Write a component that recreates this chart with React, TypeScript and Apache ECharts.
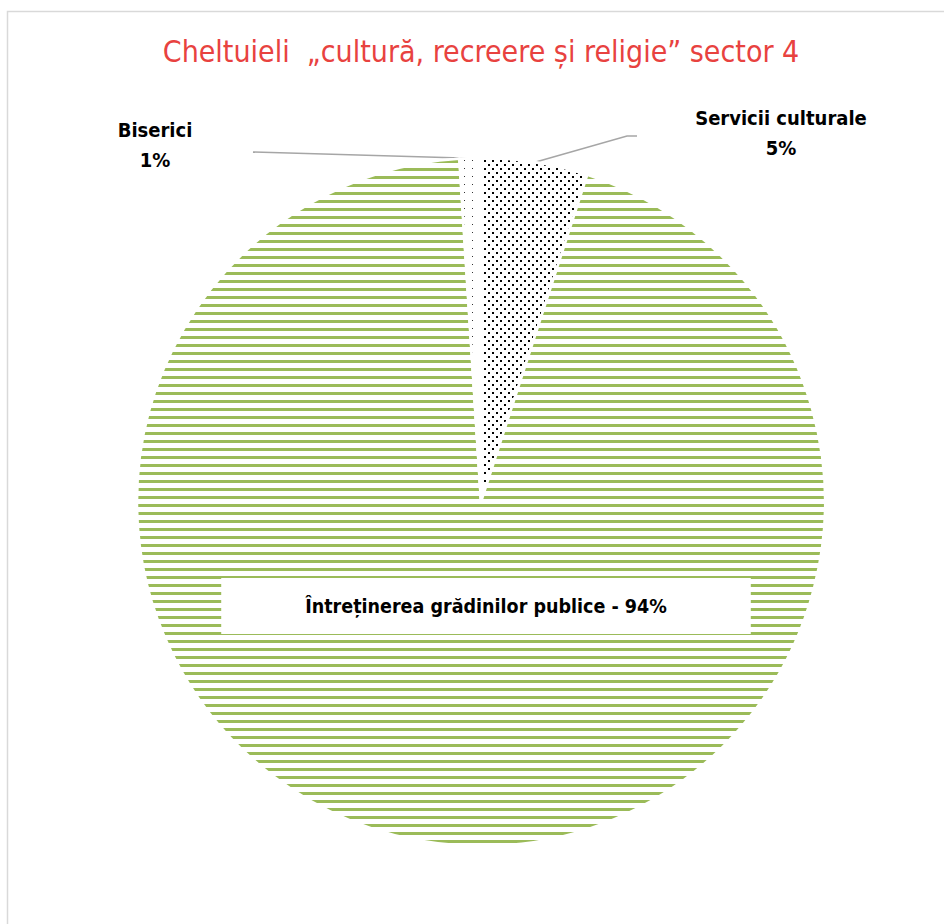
import React, { useEffect, useRef } from 'react';
import * as echarts from 'echarts';

const TITLE = 'Cheltuieli  „cultură, recreere și religie” sector 4';
const categories = ['Servicii culturale', 'Întreținerea grădinilor publice', 'Biserici'];
const values = [5, 94, 1];

const FONT = "'Liberation Sans Narrow', 'DejaVu Sans Condensed', 'Roboto Condensed', sans-serif";
const GREEN = '#9bbb59';

export default function App() {
  const ref = useRef<HTMLDivElement>(null);
  useEffect(() => {
    const chart = echarts.init(ref.current!, null, { renderer: 'svg' });
    const decals: any[] = [
      { symbol: 'rect', symbolSize: 1, color: '#000', dashArrayX: [[2, 6], [0, 4, 2, 2]], dashArrayY: [2, 2] },
      { symbol: 'rect', symbolSize: 1, color: GREEN, dashArrayX: [1, 0], dashArrayY: [3, 5] },
      { symbol: 'rect', symbolSize: 1, color: '#333', dashArrayX: [1, 7], dashArrayY: [1, 7] },
    ];
    const labelBase = {
      fontFamily: FONT,
      fontWeight: 'bold',
      fontSize: 20,
      lineHeight: 30,
      color: '#000',
    };
    const data = categories.map((name, i) => ({
      name,
      value: values[i],
      itemStyle: { color: '#ffffff', decal: decals[i], borderColor: '#ffffff', borderWidth: 2.5 },
      label:
        i === 1
          ? { ...labelBase, fontSize: 19.5, position: 'inside', formatter: '{b} - {d}%', backgroundColor: '#ffffff', padding: [13, 84] }
          : { ...labelBase, position: 'outside', formatter: '{b}\n{d}%', align: 'center' },
      labelLine: { show: i !== 1 },
    }));
    const option: any = {
      animation: false,
      graphic: [
        { type: 'rect', shape: { x: 7.5, y: 11.5, width: 1000, height: 1000 }, style: { fill: 'none', stroke: '#d9d9d9', lineWidth: 1.5 }, silent: true },
        {
          type: 'text', x: 481, y: 51,
          style: { text: TITLE, align: 'center', verticalAlign: 'middle', fill: '#e8423f', fontSize: 30, fontFamily: FONT },
        },
      ],
      series: [
        {
          type: 'pie',
          center: [481, 502],
          radius: 344,
          startAngle: 90,
          clockwise: true,
          silent: true,
          emphasis: { disabled: true },
          labelLine: { show: true, length: 20, length2: 20, lineStyle: { color: '#a6a6a6', width: 1.5 } },
          data,
          labelLayout: (p: any) => {
            const p0 = p.labelLinePoints ? p.labelLinePoints[0] : [0, 0];
            if (p.dataIndex === 0) {
              return { x: 781, y: 133, align: 'center', verticalAlign: 'middle', labelLinePoints: [p0, [627, 136], [637, 136]] };
            }
            if (p.dataIndex === 2) {
              return { x: 155, y: 145, align: 'center', verticalAlign: 'middle', labelLinePoints: [p0, [253, 152], [253, 152]] };
            }
            return { x: 486, y: 606, align: 'center', verticalAlign: 'middle' };
          },
        },
      ],
    };
    chart.setOption(option);
    return () => chart.dispose();
  }, []);
  return <div ref={ref} style={{ position: 'absolute', left: 0, top: 0, width: 944, height: 924 }} />;
}
